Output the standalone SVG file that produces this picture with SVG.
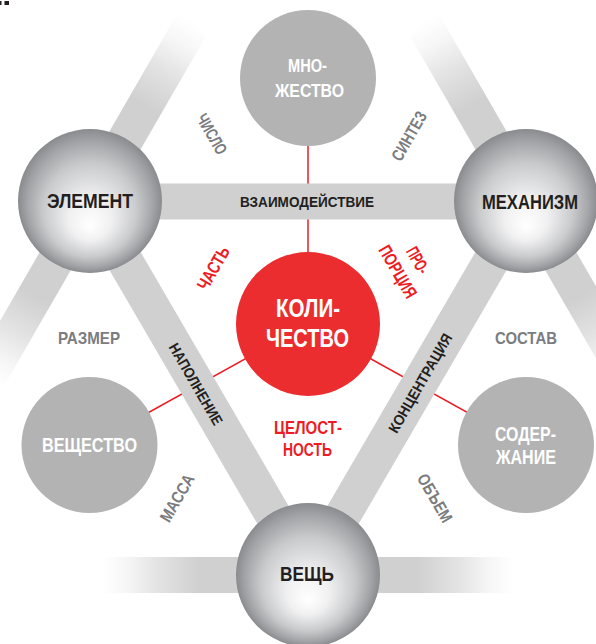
<svg xmlns="http://www.w3.org/2000/svg" width="596" height="644" viewBox="0 0 596 644">
<defs>
<radialGradient id="sphere" cx="0.5" cy="0.5" r="0.5" fx="0.5" fy="0.68">
<stop offset="0" stop-color="#ffffff"/>
<stop offset="0.3" stop-color="#f0f0f1"/>
<stop offset="0.65" stop-color="#c9cacc"/>
<stop offset="0.88" stop-color="#a2a3a6"/>
<stop offset="1" stop-color="#8a8b8e"/>
</radialGradient>
<linearGradient id="fade" x1="0" y1="0" x2="1" y2="0">
<stop offset="0" stop-color="#d0d0d0" stop-opacity="0"/>
<stop offset="0.061" stop-color="#d0d0d0" stop-opacity="0.2"/>
<stop offset="0.134" stop-color="#d0d0d0" stop-opacity="0.6"/>
<stop offset="0.232" stop-color="#d0d0d0" stop-opacity="1"/>
<stop offset="0.768" stop-color="#d0d0d0" stop-opacity="1"/>
<stop offset="0.866" stop-color="#d0d0d0" stop-opacity="0.6"/>
<stop offset="0.939" stop-color="#d0d0d0" stop-opacity="0.2"/>
<stop offset="1" stop-color="#d0d0d0" stop-opacity="0"/>
</linearGradient>
</defs>
<style>
text { font-family: "Liberation Sans", Arial, sans-serif; font-weight: bold; text-anchor: middle; }
.band { stroke: #d0d0d0; stroke-width: 36; fill: none; }
.red { stroke: #ed1c24; stroke-width: 1.5; fill: none; }
.gray { fill: #b3b3b3; }
.sph { fill: url(#sphere); }
.dark { fill: #231f20; }
.white { fill: #ffffff; }
.lbl { fill: #7b7c7f; font-size: 17px; }
.rlbl { fill: #ed1c24; font-size: 18px; }
.blbl { fill: #231f20; font-size: 15px; }
</style>
<g id="corner-marks">
<rect x="0" y="1" width="1.5" height="4" fill="#231f20"/>
<rect x="4.5" y="1" width="4.5" height="4" fill="#231f20"/>
</g>
<g id="connectors">
<g transform="translate(90,201) rotate(-60)"><rect x="-205" y="-18" width="410" height="36" fill="url(#fade)"/></g>
<g transform="translate(526,201) rotate(60)"><rect x="-205" y="-18" width="410" height="36" fill="url(#fade)"/></g>
<g transform="translate(308,575)"><rect x="-205" y="-18" width="410" height="36" fill="url(#fade)"/></g>
<path class="red" d="M308 324 V78 M308 324 L90 445 M308 324 L526 445"/>
<line class="band" x1="90" y1="201.5" x2="526" y2="201.5"/>
<line class="band" x1="90" y1="201" x2="308" y2="575"/>
<line class="band" x1="526" y1="201" x2="308" y2="575"/>
</g>
<g id="labels">
<text class="blbl" x="307" y="207" textLength="134" lengthAdjust="spacingAndGlyphs">ВЗАИМОДЕЙСТВИЕ</text>
<g transform="translate(196,384) rotate(60)"><text class="blbl" x="0" y="5.5" textLength="92" lengthAdjust="spacingAndGlyphs">НАПОЛНЕНИЕ</text></g>
<g transform="translate(420,383) rotate(-60)"><text class="blbl" x="0" y="5.5" textLength="112" lengthAdjust="spacingAndGlyphs">КОНЦЕНТРАЦИЯ</text></g>
<g transform="translate(212,134) rotate(60)"><text class="lbl" x="0" y="6" textLength="44" lengthAdjust="spacingAndGlyphs">ЧИСЛО</text></g>
<g transform="translate(409,136) rotate(-60)"><text class="lbl" x="0" y="6" textLength="54" lengthAdjust="spacingAndGlyphs">СИНТЕЗ</text></g>
<g transform="translate(177,498) rotate(-60)"><text class="lbl" x="0" y="6" textLength="52" lengthAdjust="spacingAndGlyphs">МАССА</text></g>
<g transform="translate(435,498) rotate(60)"><text class="lbl" x="0" y="6" textLength="53" lengthAdjust="spacingAndGlyphs">ОБЪЕМ</text></g>
<text class="lbl" x="89" y="344" textLength="62" lengthAdjust="spacingAndGlyphs">РАЗМЕР</text>
<text class="lbl" x="526" y="344" textLength="62" lengthAdjust="spacingAndGlyphs">СОСТАВ</text>
<g transform="translate(213,268) rotate(-60)"><text class="rlbl" x="0" y="6.5" textLength="47" lengthAdjust="spacingAndGlyphs">ЧАСТЬ</text></g>
<g transform="translate(418,260) rotate(60)">
<text class="rlbl" x="0" y="6.5" textLength="28" lengthAdjust="spacingAndGlyphs">ПРО-</text>
<text class="rlbl" x="0" y="29.5" textLength="58" lengthAdjust="spacingAndGlyphs">ПОРЦИЯ</text>
</g>
<text class="rlbl" x="308" y="434" style="font-size:19px" textLength="68" lengthAdjust="spacingAndGlyphs">ЦЕЛОСТ-</text>
<text class="rlbl" x="307.5" y="456" style="font-size:19px" textLength="49" lengthAdjust="spacingAndGlyphs">НОСТЬ</text>
</g>
<g id="node-mnozhestvo">
<circle class="gray" cx="308" cy="78" r="68"/>
<text class="white" x="307.5" y="72" style="font-size:18px" textLength="39" lengthAdjust="spacingAndGlyphs">МНО-</text>
<text class="white" x="309.5" y="97" style="font-size:18px" textLength="69" lengthAdjust="spacingAndGlyphs">ЖЕСТВО</text>
</g>
<g id="node-element">
<circle class="sph" cx="90" cy="201" r="72"/>
<text class="dark" x="90" y="208" style="font-size:21px" textLength="86" lengthAdjust="spacingAndGlyphs">ЭЛЕМЕНТ</text>
</g>
<g id="node-mekhanizm">
<circle class="sph" cx="526" cy="201" r="72"/>
<text class="dark" x="530" y="209" style="font-size:21px" textLength="96" lengthAdjust="spacingAndGlyphs">МЕХАНИЗМ</text>
</g>
<g id="node-kolichestvo">
<circle cx="308" cy="324" r="72" fill="#ec2d2f"/>
<text class="white" x="308" y="317" style="font-size:25px" textLength="64" lengthAdjust="spacingAndGlyphs">КОЛИ-</text>
<text class="white" x="307.5" y="347" style="font-size:25px" textLength="83" lengthAdjust="spacingAndGlyphs">ЧЕСТВО</text>
</g>
<g id="node-veshchestvo">
<circle class="gray" cx="89.5" cy="445" r="68"/>
<text class="white" x="89.5" y="452" style="font-size:21px" textLength="95" lengthAdjust="spacingAndGlyphs">ВЕЩЕСТВО</text>
</g>
<g id="node-soderzhanie">
<circle class="gray" cx="526" cy="445" r="68"/>
<text class="white" x="525.5" y="441" style="font-size:20px" textLength="61" lengthAdjust="spacingAndGlyphs">СОДЕР-</text>
<text class="white" x="526" y="464" style="font-size:20px" textLength="60" lengthAdjust="spacingAndGlyphs">ЖАНИЕ</text>
</g>
<g id="node-veshch">
<circle class="sph" cx="308" cy="575" r="72"/>
<text class="dark" x="307" y="581" style="font-size:21px" textLength="54" lengthAdjust="spacingAndGlyphs">ВЕЩЬ</text>
</g>
</svg>
